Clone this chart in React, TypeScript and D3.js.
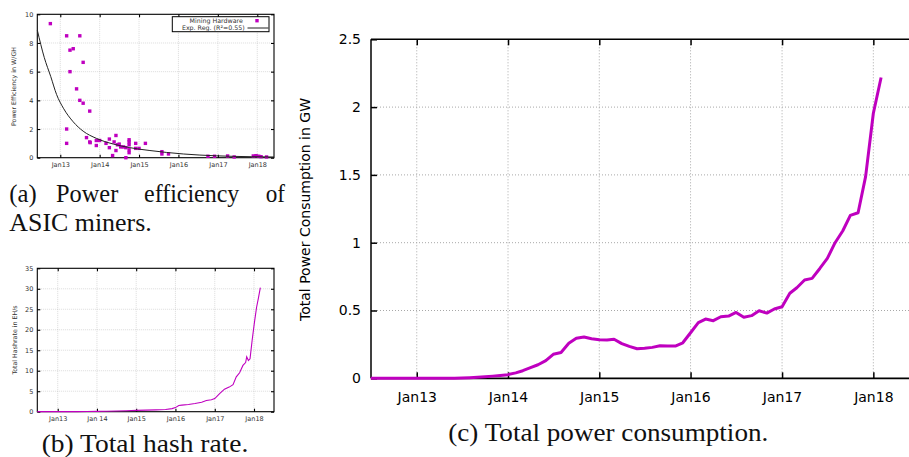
import React, { useEffect, useRef } from "react";
import * as d3 from "d3";

const parse = d3.timeParse("%Y-%m-%d");

// (a) mining hardware: release date, efficiency in W/GH
const minerPoints: [string, number][] = [
  ["2012-10-01", 9.35], ["2013-03-01", 8.5], ["2013-07-01", 8.5], ["2013-04-01", 7.5],
  ["2013-05-01", 7.6], ["2013-08-01", 6.65], ["2013-04-01", 6.0], ["2013-06-01", 4.8],
  ["2013-07-01", 4.0], ["2013-08-01", 3.8], ["2013-10-01", 3.25], ["2013-03-01", 2.0],
  ["2013-03-01", 1.0], ["2013-09-01", 1.4], ["2013-10-01", 1.1], ["2013-10-05", 1.05],
  ["2013-12-01", 1.2], ["2014-01-01", 1.2], ["2013-12-01", 0.85], ["2014-03-01", 1.0],
  ["2014-04-01", 1.3], ["2014-04-01", 0.7], ["2014-05-01", 0.15], ["2014-06-01", 1.55],
  ["2014-05-15", 1.1], ["2014-06-01", 0.5], ["2014-06-15", 0.9], ["2014-07-01", 0.95],
  ["2014-07-15", 0.75], ["2014-08-10", 0.75], ["2014-09-01", 0.7], ["2014-09-01", 0.0],
  ["2014-10-01", 1.25], ["2014-10-01", 1.1], ["2014-10-01", 0.9], ["2014-10-01", 0.55],
  ["2014-10-01", 0.35], ["2014-12-01", 1.0], ["2014-12-01", 0.65], ["2015-01-01", 0.65],
  ["2015-03-01", 1.0], ["2015-08-01", 0.42], ["2015-08-01", 0.26], ["2015-10-01", 0.26],
  ["2016-10-01", 0.1], ["2016-12-01", 0.1], ["2017-04-01", 0.12], ["2017-06-01", 0.05],
  ["2017-11-25", 0.12], ["2017-12-20", 0.14], ["2018-01-15", 0.1], ["2018-02-05", 0.07],
  ["2018-03-28", 0.05],
];

// exponential regression curve
const regPoints: [string, number][] = [
  ["2012-06-02", 8.9], ["2012-08-05", 7.0], ["2012-10-05", 5.65], ["2012-11-28", 4.4],
  ["2013-01-30", 3.45], ["2013-05-01", 2.5], ["2013-08-01", 1.85], ["2013-12-01", 1.35],
  ["2014-05-08", 0.95], ["2014-10-08", 0.7], ["2015-04-12", 0.5], ["2016-02-15", 0.26],
  ["2016-12-20", 0.13], ["2017-11-05", 0.07], ["2018-06-05", 0.05],
];

// (b) total hash rate in EH/s
const hashPoints: [string, number][] = [
  ["2012-06-25", 0.02], ["2013-01-01", 0.025], ["2013-07-01", 0.03], ["2013-10-01", 0.05],
  ["2014-01-01", 0.08], ["2014-04-01", 0.12], ["2014-07-01", 0.18], ["2014-10-01", 0.25],
  ["2015-01-01", 0.32], ["2015-04-01", 0.38], ["2015-07-01", 0.45], ["2015-10-01", 0.55],
  ["2015-12-01", 0.75], ["2016-01-01", 1.0], ["2016-02-01", 1.5], ["2016-03-01", 1.6],
  ["2016-05-01", 1.75], ["2016-07-01", 2.0], ["2016-09-01", 2.3], ["2016-10-15", 2.75],
  ["2016-12-01", 2.9], ["2017-01-01", 3.2], ["2017-02-15", 4.4], ["2017-04-01", 5.5],
  ["2017-05-15", 6.0], ["2017-06-20", 6.6], ["2017-07-20", 8.5], ["2017-08-20", 9.5],
  ["2017-09-20", 11.3], ["2017-10-15", 12.0], ["2017-10-25", 13.4], ["2017-11-10", 12.5],
  ["2017-11-25", 12.9], ["2017-12-15", 17.5], ["2018-01-05", 21.8], ["2018-01-25", 25.5],
  ["2018-02-10", 27.6], ["2018-03-01", 30.3],
];

// (c) total power consumption in GW, monthly from Jul 2012
const powerStart = "2012-07-01";
const powerValues = [
  0, 0, 0, 0, 0, 0,
  0, 0, 0, 0, 0.001, 0.001, 0.002, 0.004, 0.007, 0.011, 0.016, 0.021,
  0.027, 0.04, 0.056, 0.078, 0.1, 0.13, 0.177, 0.19, 0.258, 0.295, 0.305, 0.292,
  0.285, 0.283, 0.288, 0.256, 0.235, 0.218, 0.222, 0.228, 0.24, 0.238, 0.238, 0.262,
  0.336, 0.41, 0.437, 0.425, 0.454, 0.459, 0.486, 0.45, 0.462, 0.498, 0.481, 0.511,
  0.528, 0.627, 0.668, 0.725, 0.737, 0.81, 0.884, 1.0, 1.088, 1.202, 1.221, 1.487,
  1.955, 2.218,
];

const yearTicks = ["2013-01-01", "2014-01-01", "2015-01-01", "2016-01-01", "2017-01-01", "2018-01-01"];
const labelsA = ["Jan13", "Jan14", "Jan15", "Jan16", "Jan17", "Jan18"];
const labelsB = ["Jan13", "Jan 14", "Jan15", "Jan16", "Jan17", "Jan18"];
const effTicks = [0, 2, 4, 6, 8, 10];
const hashTicks = [0, 5, 10, 15, 20, 25, 30, 35];
const powerTicks = [0, 0.5, 1, 1.5, 2, 2.5];

const PURPLE = "#bf00bf";
const SANS = "DejaVu Sans, sans-serif";
const SERIF = "Liberation Serif, serif";

type Opts = { tick: number; font: number; xPad: number; yPad: number; mirror: boolean; grid: string; dash: string; gw: number; bw: number };

function frame(svg: any, x: any, y: any, xLabels: string[], yTicks: number[], o: Opts) {
  const [xl, xr] = x.range();
  const [yb, yt] = y.range();
  const dates = yearTicks.map((d) => parse(d));
  const g = svg.append("g");

  g.append("g").selectAll("line").data(dates).join("line")
    .attr("x1", (d: Date) => x(d)).attr("x2", (d: Date) => x(d))
    .attr("y1", yb).attr("y2", yt)
    .attr("stroke", o.grid).attr("stroke-width", o.gw).attr("stroke-dasharray", o.dash);
  g.append("g").selectAll("line").data(yTicks.slice(1, -1)).join("line")
    .attr("x1", xl).attr("x2", xr)
    .attr("y1", (d: number) => y(d)).attr("y2", (d: number) => y(d))
    .attr("stroke", o.grid).attr("stroke-width", o.gw).attr("stroke-dasharray", o.dash);

  const style = (a: any) => {
    a.select(".domain").remove();
    a.attr("font-family", SANS).attr("font-size", o.font);
    a.selectAll("line").attr("stroke", "#000").attr("stroke-width", o.bw);
    a.selectAll("text").attr("fill", o.mirror ? "#333" : "#000");
  };

  g.append("g").attr("transform", `translate(0,${yb})`)
    .call(d3.axisBottom(x).tickValues(dates).tickFormat((_: any, i: number) => xLabels[i])
      .tickSizeInner(-o.tick).tickSizeOuter(0).tickPadding(o.xPad))
    .call(style);
  g.append("g").attr("transform", `translate(${xl},0)`)
    .call(d3.axisLeft(y).tickValues(yTicks).tickFormat((d: any) => String(d))
      .tickSizeInner(-o.tick).tickSizeOuter(0).tickPadding(o.yPad))
    .call(style);
  g.append("g").attr("transform", `translate(0,${yt})`)
    .call(d3.axisTop(x).tickValues(dates).tickFormat(() => "").tickSizeInner(-o.tick).tickSizeOuter(0))
    .call(style);
  if (o.mirror) {
    g.append("g").attr("transform", `translate(${xr},0)`)
      .call(d3.axisRight(y).tickValues(yTicks).tickFormat(() => "").tickSizeInner(-o.tick).tickSizeOuter(0))
      .call(style);
    g.append("rect").attr("x", xl).attr("y", yt).attr("width", xr - xl).attr("height", yb - yt)
      .attr("fill", "none").attr("stroke", "#000").attr("stroke-width", o.bw);
  } else {
    g.append("line").attr("x1", xl).attr("x2", xr).attr("y1", yt).attr("y2", yt)
      .attr("stroke", "#000").attr("stroke-width", o.bw);
    g.append("line").attr("x1", xl).attr("x2", xr).attr("y1", yb).attr("y2", yb)
      .attr("stroke", "#000").attr("stroke-width", o.bw + 0.3);
    g.append("line").attr("x1", xl).attr("x2", xl).attr("y1", yt).attr("y2", yb)
      .attr("stroke", "#000").attr("stroke-width", o.bw);
  }
  return g;
}

const smallOpts: Opts = { tick: 3, font: 6.5, xPad: 5, yPad: 4, mirror: true, grid: "#b5b5b5", dash: "0.8,1.2", gw: 0.6, bw: 1.1 };

function drawEfficiency(svg: any) {
  const x = d3.scaleTime().domain([parse("2012-06-02"), parse("2018-06-05")]).range([37.3, 274]);
  const y = d3.scaleLinear().domain([0, 10]).range([157.7, 14.3]);
  frame(svg, x, y, labelsA, effTicks, smallOpts);

  svg.append("g").selectAll("rect").data(minerPoints).join("rect")
    .attr("x", (d: [string, number]) => x(parse(d[0])) - 1.7)
    .attr("y", (d: [string, number]) => y(d[1]) - 1.7)
    .attr("width", 3.4).attr("height", 3.4).attr("fill", PURPLE);

  const line = d3.line<[string, number]>().curve(d3.curveMonotoneX)
    .x((d) => x(parse(d[0]))).y((d) => y(d[1]));
  svg.append("path").attr("d", line(regPoints)).attr("fill", "none")
    .attr("stroke", "#222").attr("stroke-width", 1);

  svg.append("text").attr("transform", "translate(16,86.5) rotate(-90)")
    .attr("text-anchor", "middle").attr("font-family", SANS).attr("font-size", 6.3)
    .attr("fill", "#333").text("Power Efficiency in W/GH");

  const lg = svg.append("g");
  lg.append("rect").attr("x", 172.3).attr("y", 16.7).attr("width", 96.7).attr("height", 15)
    .attr("fill", "#fff").attr("stroke", "#000").attr("stroke-width", 1);
  lg.append("text").attr("x", 216.2).attr("y", 23).attr("text-anchor", "middle")
    .attr("font-family", SANS).attr("font-size", 6.3).attr("fill", "#333").text("Mining Hardware");
  lg.append("rect").attr("x", 255.3).attr("y", 19).attr("width", 3.4).attr("height", 3.4).attr("fill", PURPLE);
  lg.append("text").attr("x", 213.3).attr("y", 30.2).attr("text-anchor", "middle")
    .attr("font-family", SANS).attr("font-size", 6.3).attr("fill", "#333").text("Exp. Reg. (R²=0.55)");
  lg.append("line").attr("x1", 247.5).attr("x2", 268.5).attr("y1", 28).attr("y2", 28)
    .attr("stroke", "#222").attr("stroke-width", 1);
}

function drawHashrate(svg: any) {
  const x = d3.scaleTime().domain([parse("2012-06-25"), parse("2018-07-06")]).range([37.3, 274]);
  const y = d3.scaleLinear().domain([0, 35]).range([411.7, 268.3]);
  frame(svg, x, y, labelsB, hashTicks, smallOpts);

  const line = d3.line<[string, number]>().x((d) => x(parse(d[0]))).y((d) => y(d[1]));
  svg.append("path").attr("d", line(hashPoints)).attr("fill", "none")
    .attr("stroke", PURPLE).attr("stroke-width", 1.1);

  svg.append("text").attr("transform", "translate(16.5,340) rotate(-90)")
    .attr("text-anchor", "middle").attr("font-family", SANS).attr("font-size", 6.3)
    .attr("fill", "#333").text("Total Hashrate in EH/s");
}

function drawPower(svg: any) {
  const x = d3.scaleTime().domain([parse("2012-07-02"), parse("2018-06-01")]).range([371, 911.1]);
  const y = d3.scaleLinear().domain([0, 2.5]).range([378.3, 39.3]);
  frame(svg, x, y, labelsA, powerTicks, {
    tick: 6, font: 14, xPad: 13.4, yPad: 10, mirror: false, grid: "#a8a8a8", dash: "1,2", gw: 1, bw: 1.5,
  });

  const start = parse(powerStart) as Date;
  const months = d3.timeMonth.range(start, d3.timeMonth.offset(start, powerValues.length));
  const line = d3.line<number>().x((_, i) => x(months[i])).y((d) => y(d));
  svg.append("path").attr("d", line(powerValues)).attr("fill", "none")
    .attr("stroke", PURPLE).attr("stroke-width", 3).attr("stroke-linejoin", "round");

  svg.append("text").attr("transform", "translate(310,209.5) rotate(-90)")
    .attr("text-anchor", "middle").attr("font-family", SANS).attr("font-size", 14)
    .attr("fill", "#000").text("Total Power Consumption in GW");
}

function drawCaptions(svg: any) {
  const words: [string, number, number, number][] = [
    ["(a)", 9.3, 27.4, 202.3], ["Power", 56, 62.3, 202.3], ["efficiency", 144, 95.3, 202.3],
    ["of", 265.7, 19.3, 202.3], ["ASIC miners.", 9.3, 142.4, 230.7],
    ["(b) Total hash rate.", 41.7, 206.6, 451.7], ["(c) Total power consumption.", 448.3, 320, 441],
  ];
  svg.append("g").selectAll("text").data(words).join("text")
    .attr("x", (d: any) => d[1]).attr("y", (d: any) => d[3])
    .attr("textLength", (d: any) => d[2]).attr("lengthAdjust", "spacingAndGlyphs")
    .attr("font-family", SERIF).attr("font-size", 24.5).attr("fill", "#111")
    .text((d: any) => d[0]);
}

export default function App() {
  const ref = useRef<SVGSVGElement>(null);

  useEffect(() => {
    const svg = d3.select(ref.current);
    svg.selectAll("*").remove();
    drawEfficiency(svg);
    drawHashrate(svg);
    drawPower(svg);
    drawCaptions(svg);
  }, []);

  return (
    <svg
      ref={ref}
      width={909}
      height={457}
      style={{ position: "absolute", left: 0, top: 0, background: "#fff", overflow: "hidden" }}
    />
  );
}
